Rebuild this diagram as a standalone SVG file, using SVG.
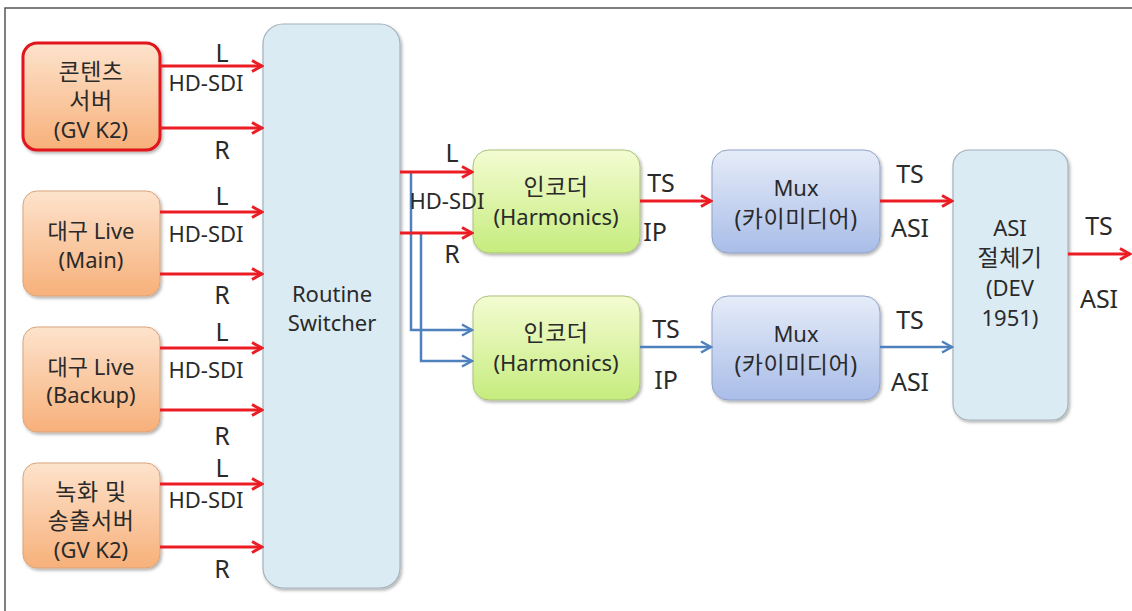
<svg xmlns="http://www.w3.org/2000/svg" width="1132" height="611" viewBox="0 0 1132 611">
  <defs>
    <linearGradient id="gOrange" x1="0" y1="0" x2="0" y2="1">
      <stop offset="0" stop-color="#fde3cc"/>
      <stop offset="1" stop-color="#f7b07a"/>
    </linearGradient>
    <linearGradient id="gGreen" x1="0" y1="0" x2="0" y2="1">
      <stop offset="0" stop-color="#f4fcd2"/>
      <stop offset="1" stop-color="#c6ec7e"/>
    </linearGradient>
    <linearGradient id="gBlue" x1="0" y1="0" x2="0" y2="1">
      <stop offset="0" stop-color="#e6ecf8"/>
      <stop offset="1" stop-color="#a9bde8"/>
    </linearGradient>
    <filter id="shadow" x="-10%" y="-10%" width="130%" height="130%">
      <feDropShadow dx="1.5" dy="2" stdDeviation="1.5" flood-color="#000" flood-opacity="0.3"/>
    </filter>
    <marker id="arrRed" markerWidth="14" markerHeight="14" viewBox="0 0 14 14" refX="12" refY="7" orient="auto" markerUnits="userSpaceOnUse">
      <path d="M2,1.5 L12,7 L2,12.5" fill="none" stroke="#ec1c24" stroke-width="3"/>
    </marker>
    <marker id="arrBlue" markerWidth="14" markerHeight="14" viewBox="0 0 14 14" refX="12" refY="7" orient="auto" markerUnits="userSpaceOnUse">
      <path d="M2,1.5 L12,7 L2,12.5" fill="none" stroke="#4f81bd" stroke-width="2.5"/>
    </marker>
  </defs>
  <style>
    text { font-family: "Noto Sans", "Noto Sans CJK KR", sans-serif; fill: #2a2a2a; text-anchor: middle; font-size: 22px; }
    .ko { font-size: 23px; letter-spacing: 0.5px; }
    .pin { font-size: 25px; }
    .src { fill: url(#gOrange); stroke: #d9a57a; stroke-width: 1; filter: url(#shadow); }
    .sw { fill: #daebf3; stroke: #a4b2bc; stroke-width: 1.2; filter: url(#shadow); }
    .enc { fill: url(#gGreen); stroke: #a9c178; stroke-width: 1; filter: url(#shadow); }
    .mux { fill: url(#gBlue); stroke: #8ea2c8; stroke-width: 1; filter: url(#shadow); }
    .red { fill: none; stroke: #ec1c24; stroke-width: 3; marker-end: url(#arrRed); }
    .blue { fill: none; stroke: #4f81bd; stroke-width: 2.5; marker-end: url(#arrBlue); }
  </style>

  <rect width="1132" height="611" fill="#fff"/>
  <!-- frame -->
  <path d="M5,611 L5,8 L1132,8" fill="none" stroke="#555" stroke-width="1.5"/>

  <!-- sources -->
  <g id="src-contents">
    <rect class="src" x="23" y="43" width="137" height="107" rx="14" style="stroke:#e0141c;stroke-width:3"/>
    <text class="ko" x="91" y="80">콘텐츠</text>
    <text class="ko" x="91" y="109">서버</text>
    <text x="91" y="138">(GV K2)</text>
  </g>
  <g id="src-daegu-main">
    <rect class="src" x="23" y="191" width="137" height="105" rx="14"/>
    <text x="91" y="239">대구 Live</text>
    <text x="91" y="268">(Main)</text>
  </g>
  <g id="src-daegu-backup">
    <rect class="src" x="23" y="327" width="137" height="105" rx="14"/>
    <text x="91" y="375">대구 Live</text>
    <text x="91" y="403">(Backup)</text>
  </g>
  <g id="src-record">
    <rect class="src" x="23" y="463" width="137" height="105" rx="14"/>
    <text class="ko" x="91" y="500">녹화 및</text>
    <text class="ko" x="91" y="529">송출서버</text>
    <text x="91" y="558">(GV K2)</text>
  </g>

  <!-- routing switcher -->
  <g id="switcher">
    <rect class="sw" x="263" y="24" width="137" height="564" rx="20"/>
    <text x="332" y="302">Routine</text>
    <text x="332" y="331">Switcher</text>
  </g>

  <!-- encoders -->
  <g id="encoder-1">
    <rect class="enc" x="473" y="150" width="167" height="103" rx="16"/>
    <text class="ko" x="556" y="195">인코더</text>
    <text x="556" y="225">(Harmonics)</text>
  </g>
  <g id="encoder-2">
    <rect class="enc" x="473" y="296" width="167" height="104" rx="16"/>
    <text class="ko" x="556" y="341">인코더</text>
    <text x="556" y="371">(Harmonics)</text>
  </g>

  <!-- multiplexers -->
  <g id="mux-1">
    <rect class="mux" x="712" y="150" width="168" height="103" rx="16"/>
    <text x="796" y="196">Mux</text>
    <text class="ko" x="796" y="227">(카이미디어)</text>
  </g>
  <g id="mux-2">
    <rect class="mux" x="712" y="296" width="168" height="104" rx="16"/>
    <text x="796" y="342">Mux</text>
    <text class="ko" x="796" y="373">(카이미디어)</text>
  </g>

  <!-- ASI changeover -->
  <g id="asi-switch">
    <rect class="sw" x="953" y="150" width="115" height="270" rx="16"/>
    <text x="1010" y="236">ASI</text>
    <text class="ko" x="1010" y="266">절체기</text>
    <text x="1010" y="296">(DEV</text>
    <text x="1010" y="326">1951)</text>
  </g>

  <!-- connectors -->
  <g id="connectors">
    <line class="red" x1="160" y1="66" x2="262" y2="66"/>
    <line class="red" x1="160" y1="128" x2="262" y2="128"/>
    <line class="red" x1="160" y1="212" x2="262" y2="212"/>
    <line class="red" x1="160" y1="274" x2="262" y2="274"/>
    <line class="red" x1="160" y1="348" x2="262" y2="348"/>
    <line class="red" x1="160" y1="410" x2="262" y2="410"/>
    <line class="red" x1="160" y1="484" x2="262" y2="484"/>
    <line class="red" x1="160" y1="547" x2="262" y2="547"/>

    <polyline class="blue" points="411,172 411,330 472,330"/>
    <polyline class="blue" points="421,233 421,361 472,361"/>
    <line class="red" x1="400" y1="172" x2="472" y2="172"/>
    <line class="red" x1="400" y1="233" x2="472" y2="233"/>

    <line class="red" x1="640" y1="201" x2="711" y2="201"/>
    <line class="blue" x1="640" y1="347" x2="711" y2="347"/>
    <line class="red" x1="880" y1="201" x2="952" y2="201"/>
    <line class="blue" x1="880" y1="347" x2="952" y2="347"/>
    <line class="red" x1="1068" y1="254" x2="1130" y2="254"/>
  </g>

  <!-- connector labels -->
  <g id="labels">
    <text class="pin" x="222" y="62">L</text>
    <text x="206" y="91">HD-SDI</text>
    <text class="pin" x="222" y="159">R</text>
    <text class="pin" x="222" y="205">L</text>
    <text x="206" y="242">HD-SDI</text>
    <text class="pin" x="222" y="304">R</text>
    <text class="pin" x="222" y="341">L</text>
    <text x="206" y="378">HD-SDI</text>
    <text class="pin" x="222" y="445">R</text>
    <text class="pin" x="222" y="477">L</text>
    <text x="206" y="508">HD-SDI</text>
    <text class="pin" x="222" y="578">R</text>

    <text class="pin" x="452" y="162">L</text>
    <text x="447" y="209">HD-SDI</text>
    <text class="pin" x="452" y="263">R</text>

    <text class="pin" x="661" y="192">TS</text>
    <text class="pin" x="655" y="241">IP</text>
    <text class="pin" x="666" y="338">TS</text>
    <text class="pin" x="666" y="389">IP</text>

    <text class="pin" x="910" y="183">TS</text>
    <text class="pin" x="910" y="237">ASI</text>
    <text class="pin" x="910" y="329">TS</text>
    <text class="pin" x="910" y="391">ASI</text>

    <text class="pin" x="1099" y="235">TS</text>
    <text class="pin" x="1099" y="308">ASI</text>
  </g>
</svg>
